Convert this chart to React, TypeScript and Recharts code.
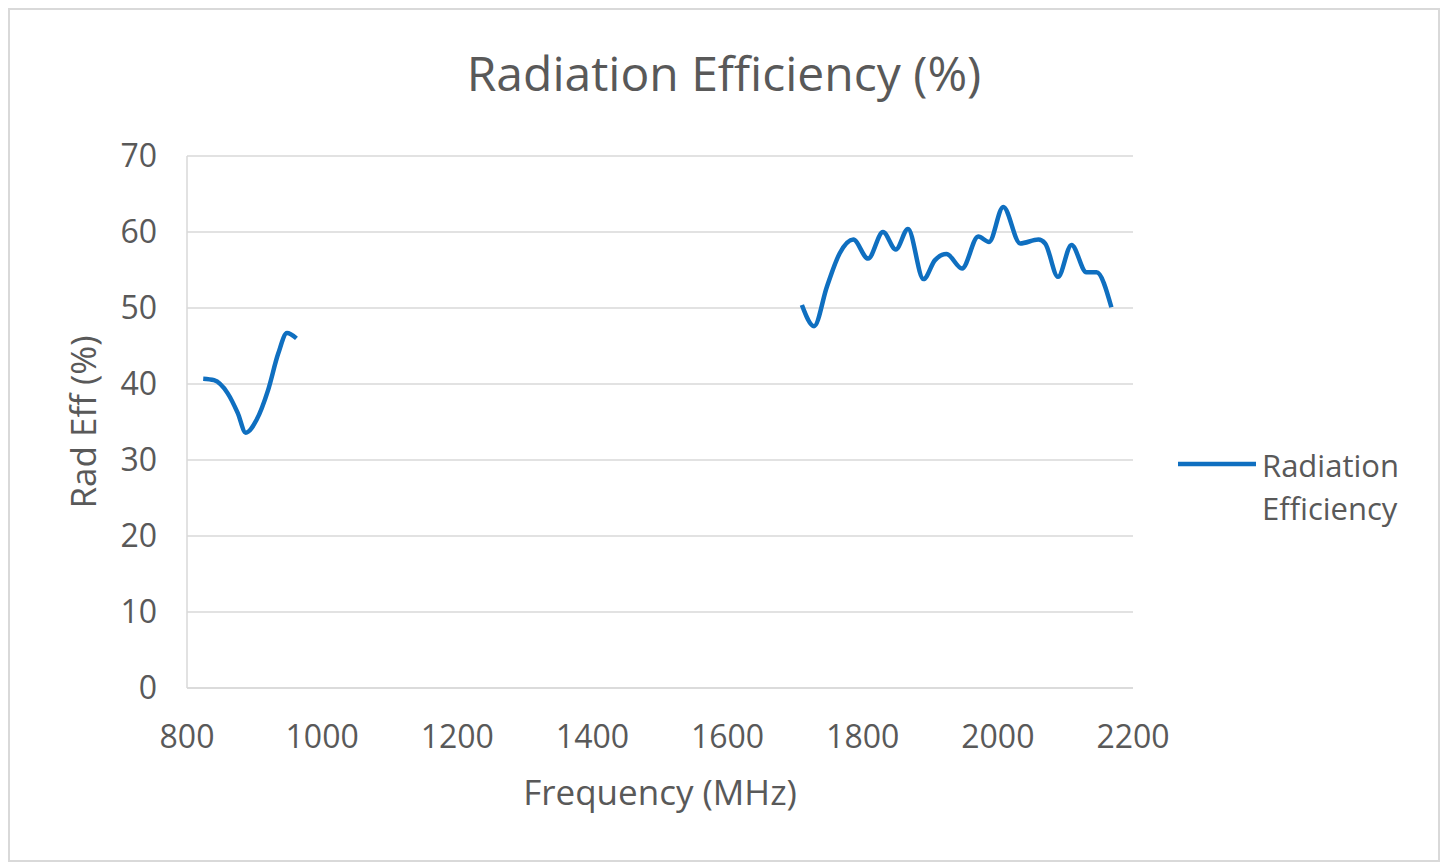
import { LineChart, Line, XAxis, YAxis, CartesianGrid, Legend } from 'recharts';

// frequency (MHz) and radiation efficiency (%); null breaks the line between bands
const freqs = [824, 840, 860, 875, 887, 903, 920, 935, 948, 962, 1300, 1710, 1728, 1747, 1766, 1786, 1808, 1830, 1849, 1867, 1890, 1907, 1924, 1947, 1971, 1987, 2008, 2033, 2060, 2070, 2089, 2109, 2131, 2146, 2168];
const effValues = [40.7, 40.5, 38.8, 36.2, 33.6, 35.3, 39.2, 44, 46.7, 46, null, 50.4, 47.6, 52.8, 57.2, 59, 56.5, 60, 57.7, 60.4, 53.8, 56.3, 57.1, 55.2, 59.4, 58.7, 63.3, 58.5, 59, 58.5, 54.1, 58.3, 54.7, 54.7, 50.1];
const xTicks = [800, 1000, 1200, 1400, 1600, 1800, 2000, 2200];
const yTicks = [0, 10, 20, 30, 40, 50, 60, 70];

const data = freqs.map((f, i) => ({ freq: f, eff: effValues[i] }));

const FONT = '"Open Sans", sans-serif';
const GREY = '#595959';
const BLUE = '#0f6fc0';

function LegendBox() {
  return (
    <div style={{ fontFamily: FONT, fontSize: 31, color: GREY, display: 'flex', alignItems: 'flex-start' }}>
      <svg width={80} height={20} style={{ marginTop: 10 }}>
        <line x1={1} y1={10} x2={79} y2={10} stroke={BLUE} strokeWidth={4.5} />
      </svg>
      <div style={{ marginLeft: 5, lineHeight: '43px' }}>
        <div>Radiation</div>
        <div>Efficiency</div>
      </div>
    </div>
  );
}

export default function App() {
  return (
    <div style={{ position: 'relative', width: 1428, height: 850, border: '2px solid #d9d9d9', background: '#fff' }}>
      <div style={{ position: 'absolute', left: 0, right: 0, top: 30, textAlign: 'center', fontFamily: FONT, fontSize: 48, color: GREY }}>
        Radiation Efficiency (%)
      </div>
      <LineChart width={1428} height={850} data={data} margin={{ top: 146, right: 305, bottom: 112, left: 117 }}>
        <CartesianGrid vertical={false} stroke="#d9d9d9" strokeWidth={1.5} />
        <XAxis
          dataKey="freq"
          type="number"
          domain={[800, 2200]}
          ticks={xTicks}
          height={60}
          tickLine={false}
          tickMargin={31}
          axisLine={{ stroke: '#d9d9d9', strokeWidth: 1.5 }}
          tick={{ fill: GREY, fontSize: 32, fontFamily: FONT }}
          label={(props: any) => {
            const vb = props.viewBox;
            return (
              <text x={vb.x + vb.width / 2} y={vb.y + 117} textAnchor="middle" fill={GREY} fontSize={35} fontFamily={FONT}>
                Frequency (MHz)
              </text>
            );
          }}
        />
        <YAxis
          type="number"
          domain={[0, 70]}
          ticks={yTicks}
          width={60}
          tickLine={false}
          tickMargin={24}
          axisLine={{ stroke: '#d9d9d9', strokeWidth: 1.5 }}
          tick={{ fill: GREY, fontSize: 32, fontFamily: FONT }}
          label={(props: any) => {
            const vb = props.viewBox;
            const cx = vb.x - 45;
            const cy = vb.y + vb.height / 2;
            return (
              <text x={cx} y={cy} transform={`rotate(-90, ${cx}, ${cy})`} textAnchor="middle" dominantBaseline="central" fill={GREY} fontSize={35} fontFamily={FONT}>
                Rad Eff (%)
              </text>
            );
          }}
        />
        <Legend
          verticalAlign="middle"
          align="center"
          content={() => <LegendBox />}
          wrapperStyle={{ left: 1167, top: 434, width: 260 }}
        />
        <Line
          dataKey="eff"
          name="Radiation Efficiency"
          type="monotone"
          stroke={BLUE}
          strokeWidth={4.5}
          dot={false}
          connectNulls={false}
          isAnimationActive={false}
        />
      </LineChart>
    </div>
  );
}
